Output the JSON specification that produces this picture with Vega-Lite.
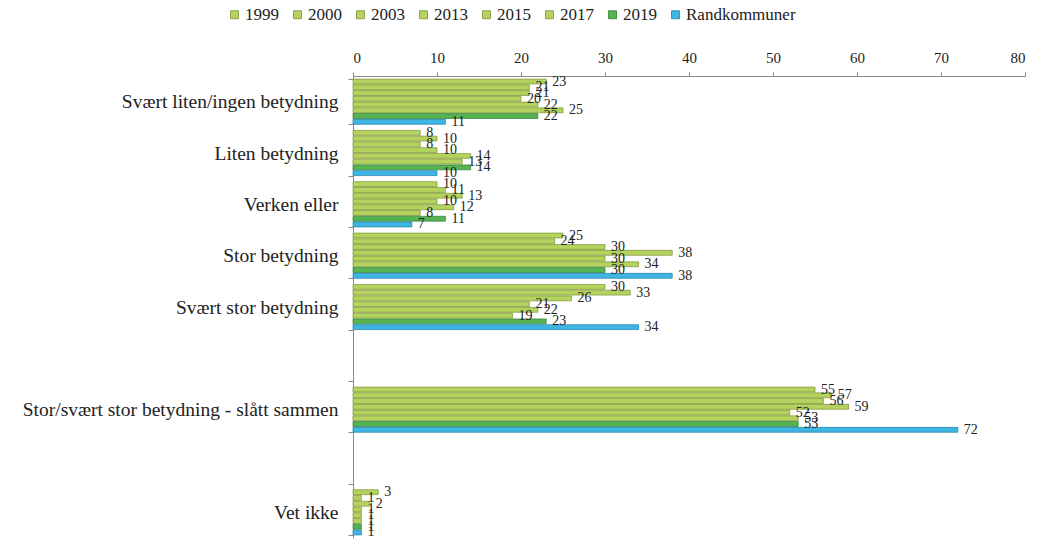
{
  "$schema": "https://vega.github.io/schema/vega-lite/v6.json",
  "autosize": {"type": "none"},
  "width": 672,
  "height": 462,
  "padding": {"left": 353, "top": 76, "right": 34, "bottom": 2},
  "background": "white",
  "config": {
    "view": {"stroke": null},
    "font": "Liberation Serif, Times New Roman, serif",
    "text": {"font": "Liberation Serif, Times New Roman, serif"},
    "axis": {"labelFont": "Liberation Serif, Times New Roman, serif", "labelColor": "#222222"},
    "legend": {"labelFont": "Liberation Serif, Times New Roman, serif"}
  },
  "data": {
    "values": [
      {"kategori": "Svært liten/ingen betydning", "serie": "1999", "verdi": 23},
      {"kategori": "Svært liten/ingen betydning", "serie": "2000", "verdi": 21},
      {"kategori": "Svært liten/ingen betydning", "serie": "2003", "verdi": 21},
      {"kategori": "Svært liten/ingen betydning", "serie": "2013", "verdi": 20},
      {"kategori": "Svært liten/ingen betydning", "serie": "2015", "verdi": 22},
      {"kategori": "Svært liten/ingen betydning", "serie": "2017", "verdi": 25},
      {"kategori": "Svært liten/ingen betydning", "serie": "2019", "verdi": 22},
      {"kategori": "Svært liten/ingen betydning", "serie": "Randkommuner", "verdi": 11},
      {"kategori": "Liten betydning", "serie": "1999", "verdi": 8},
      {"kategori": "Liten betydning", "serie": "2000", "verdi": 10},
      {"kategori": "Liten betydning", "serie": "2003", "verdi": 8},
      {"kategori": "Liten betydning", "serie": "2013", "verdi": 10},
      {"kategori": "Liten betydning", "serie": "2015", "verdi": 14},
      {"kategori": "Liten betydning", "serie": "2017", "verdi": 13},
      {"kategori": "Liten betydning", "serie": "2019", "verdi": 14},
      {"kategori": "Liten betydning", "serie": "Randkommuner", "verdi": 10},
      {"kategori": "Verken eller", "serie": "1999", "verdi": 10},
      {"kategori": "Verken eller", "serie": "2000", "verdi": 11},
      {"kategori": "Verken eller", "serie": "2003", "verdi": 13},
      {"kategori": "Verken eller", "serie": "2013", "verdi": 10},
      {"kategori": "Verken eller", "serie": "2015", "verdi": 12},
      {"kategori": "Verken eller", "serie": "2017", "verdi": 8},
      {"kategori": "Verken eller", "serie": "2019", "verdi": 11},
      {"kategori": "Verken eller", "serie": "Randkommuner", "verdi": 7},
      {"kategori": "Stor betydning", "serie": "1999", "verdi": 25},
      {"kategori": "Stor betydning", "serie": "2000", "verdi": 24},
      {"kategori": "Stor betydning", "serie": "2003", "verdi": 30},
      {"kategori": "Stor betydning", "serie": "2013", "verdi": 38},
      {"kategori": "Stor betydning", "serie": "2015", "verdi": 30},
      {"kategori": "Stor betydning", "serie": "2017", "verdi": 34},
      {"kategori": "Stor betydning", "serie": "2019", "verdi": 30},
      {"kategori": "Stor betydning", "serie": "Randkommuner", "verdi": 38},
      {"kategori": "Svært stor betydning", "serie": "1999", "verdi": 30},
      {"kategori": "Svært stor betydning", "serie": "2000", "verdi": 33},
      {"kategori": "Svært stor betydning", "serie": "2003", "verdi": 26},
      {"kategori": "Svært stor betydning", "serie": "2013", "verdi": 21},
      {"kategori": "Svært stor betydning", "serie": "2015", "verdi": 22},
      {"kategori": "Svært stor betydning", "serie": "2017", "verdi": 19},
      {"kategori": "Svært stor betydning", "serie": "2019", "verdi": 23},
      {"kategori": "Svært stor betydning", "serie": "Randkommuner", "verdi": 34},
      {"kategori": "Stor/svært stor betydning - slått sammen", "serie": "1999", "verdi": 55},
      {"kategori": "Stor/svært stor betydning - slått sammen", "serie": "2000", "verdi": 57},
      {"kategori": "Stor/svært stor betydning - slått sammen", "serie": "2003", "verdi": 56},
      {"kategori": "Stor/svært stor betydning - slått sammen", "serie": "2013", "verdi": 59},
      {"kategori": "Stor/svært stor betydning - slått sammen", "serie": "2015", "verdi": 52},
      {"kategori": "Stor/svært stor betydning - slått sammen", "serie": "2017", "verdi": 53},
      {"kategori": "Stor/svært stor betydning - slått sammen", "serie": "2019", "verdi": 53},
      {"kategori": "Stor/svært stor betydning - slått sammen", "serie": "Randkommuner", "verdi": 72},
      {"kategori": "Vet ikke", "serie": "1999", "verdi": 3},
      {"kategori": "Vet ikke", "serie": "2000", "verdi": 1},
      {"kategori": "Vet ikke", "serie": "2003", "verdi": 2},
      {"kategori": "Vet ikke", "serie": "2013", "verdi": 1},
      {"kategori": "Vet ikke", "serie": "2015", "verdi": 1},
      {"kategori": "Vet ikke", "serie": "2017", "verdi": 1},
      {"kategori": "Vet ikke", "serie": "2019", "verdi": 1},
      {"kategori": "Vet ikke", "serie": "Randkommuner", "verdi": 1}
    ]
  },
  "encoding": {
    "y": {
      "field": "kategori",
      "type": "nominal",
      "title": null,
      "scale": {
        "domain": ["Svært liten/ingen betydning", "Liten betydning", "Verken eller", "Stor betydning", "Svært stor betydning", " ", "Stor/svært stor betydning - slått sammen", "  ", "Vet ikke"],
        "paddingInner": 0.12,
        "paddingOuter": 0.06
      },
      "axis": {
        "tickBand": "extent",
        "labelFont": "Liberation Serif, Times New Roman, serif",
        "labelFontSize": 19.5,
        "labelLimit": 400,
        "labelPadding": 10,
        "tickSize": 5,
        "tickColor": "#888888",
        "domainColor": "#888888"
      }
    },
    "yOffset": {
      "field": "serie",
      "type": "nominal",
      "sort": ["1999", "2000", "2003", "2013", "2015", "2017", "2019", "Randkommuner"],
      "scale": {"paddingInner": 0.15, "paddingOuter": 0}
    },
    "x": {
      "field": "verdi",
      "type": "quantitative",
      "title": null,
      "scale": {"domain": [0, 80], "nice": false},
      "axis": {
        "orient": "top",
        "values": [0, 10, 20, 30, 40, 50, 60, 70, 80],
        "grid": false,
        "labelFont": "Liberation Serif, Times New Roman, serif",
        "labelFontSize": 15,
        "labelPadding": 7,
        "tickSize": 4,
        "tickColor": "#888888",
        "domainColor": "#888888"
      }
    }
  },
  "layer": [
    {
      "mark": {"type": "bar", "strokeWidth": 0.7},
      "encoding": {
        "color": {
          "field": "serie",
          "type": "nominal",
          "title": null,
          "scale": {
            "domain": ["1999", "2000", "2003", "2013", "2015", "2017", "2019", "Randkommuner"],
            "range": ["#b3d35e", "#b3d35e", "#b3d35e", "#b3d35e", "#b3d35e", "#b3d35e", "#55b451", "#3fb5e4"]
          },
          "legend": {
            "orient": "none",
            "legendX": -127,
            "legendY": -70,
            "direction": "horizontal",
            "columns": 8,
            "symbolType": "square",
            "symbolSize": 64,
            "symbolStrokeWidth": 0.8,
            "labelFont": "Liberation Serif, Times New Roman, serif",
            "labelFontSize": 17,
            "labelColor": "#222222",
            "labelOffset": 2,
            "columnPadding": 10
          }
        },
        "stroke": {
          "field": "serie",
          "type": "nominal",
          "scale": {
            "domain": ["1999", "2000", "2003", "2013", "2015", "2017", "2019", "Randkommuner"],
            "range": ["#7e9136", "#7e9136", "#7e9136", "#7e9136", "#7e9136", "#7e9136", "#2f7f36", "#1d7fa8"]
          },
          "legend": null
        }
      }
    },
    {
      "mark": {"type": "text", "align": "left", "baseline": "middle", "dx": 6, "fontSize": 14, "font": "Liberation Serif, Times New Roman, serif", "color": "#222222"},
      "encoding": {
        "text": {"field": "verdi", "type": "quantitative"}
      }
    }
  ]
}
